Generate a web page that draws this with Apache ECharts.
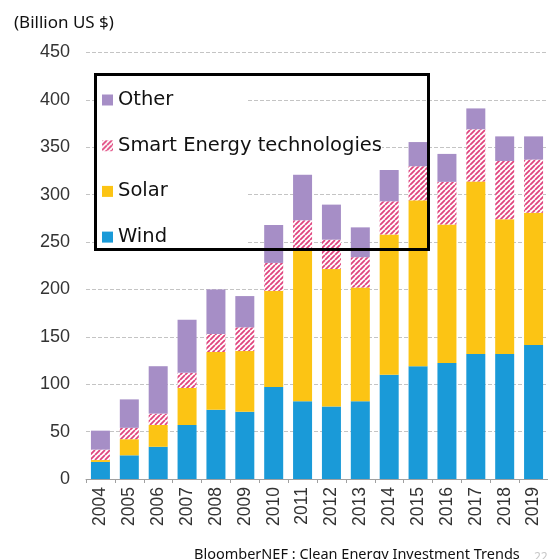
<!DOCTYPE html>
<html>
<head>
<meta charset="utf-8">
<script src="https://cdn.jsdelivr.net/npm/echarts@6/dist/echarts.min.js"></script>
<style>
  html, body { margin: 0; padding: 0; background: #fff; }
  #chart { width: 548px; height: 559px; }
</style>
</head>
<body>
<div id="chart"></div>
<script>
// Clean energy investment by sector, billion US $
const years = ['2004', '2005', '2006', '2007', '2008', '2009', '2010', '2011',
               '2012', '2013', '2014', '2015', '2016', '2017', '2018', '2019'];
const wind  = [18, 25, 34, 57, 73, 71, 97, 82, 76.5, 82, 110, 119, 122.5, 132, 132, 141.5];
const solar = [2, 17, 23, 39, 61, 64, 101.5, 161, 145, 120, 148, 175, 146, 182, 142, 139.5];
const smart = [11, 12, 12, 16, 19, 25, 29.5, 30, 31, 32, 35, 36, 45, 55, 61.5, 56];
const other = [20, 30, 50, 56, 47, 33, 40, 48, 37, 31.5, 33, 25.5, 29.5, 22, 26, 24.5];
const yTicks = [0, 50, 100, 150, 200, 250, 300, 350, 400, 450];

// Diagonal hatch fill for the smart energy series
function hatch() {
  const s = 5;
  const c = document.createElement('canvas');
  c.width = s; c.height = s;
  const g = c.getContext('2d');
  g.fillStyle = '#ffffff';
  g.fillRect(0, 0, s, s);
  g.strokeStyle = '#e0457e';
  g.lineWidth = 1.8;
  g.beginPath();
  for (let k = -1; k <= 1; k++) {
    g.moveTo(k * s, s);
    g.lineTo(k * s + s, 0);
  }
  g.stroke();
  return c;
}

const chart = echarts.init(document.getElementById('chart'), null, { renderer: 'canvas' });
const axisFont = 'Liberation Sans, Arial, sans-serif';
const textFont = 'Noto Sans, Open Sans, sans-serif';
const legendFont = 'DejaVu Sans, Noto Sans, sans-serif';

const barW = 19;
const option = {
  animation: false,
  backgroundColor: '#ffffff',
  grid: { left: 86, right: -2, top: 52.5, bottom: 80, containLabel: false },
  title: [
    { text: '(Billion US $)', left: 9, top: 10,
      textStyle: { fontFamily: textFont, fontSize: 17, fontWeight: 'normal', color: '#111' } },
    { text: 'BloomberNEF : Clean Energy Investment Trends', left: 189, top: 542,
      textStyle: { fontFamily: textFont, fontSize: 14.5, fontWeight: 'normal', color: '#111' } },
    { text: '22', left: 529, top: 547,
      textStyle: { fontFamily: textFont, fontSize: 12, fontWeight: 'normal', color: '#c8c8c8' } }
  ],
  legend: {
    orient: 'vertical',
    left: 102, top: 89,
    padding: 0,
    itemWidth: 11, itemHeight: 11,
    itemGap: 23.7,
    icon: 'rect',
    data: ['Other', 'Smart Energy technologies', 'Solar', 'Wind'],
    textStyle: { fontFamily: legendFont, fontSize: 19.5, lineHeight: 22, color: '#111',
                 backgroundColor: '#ffffff' },
    z: 6
  },
  xAxis: {
    type: 'category',
    data: years,
    axisLine: { lineStyle: { color: '#a0a0a0', width: 1 } },
    axisTick: { show: true, length: 4, lineStyle: { color: '#a0a0a0' } },
    axisLabel: { rotate: 90, margin: 8, fontFamily: axisFont, fontSize: 17.5, color: '#333' }
  },
  yAxis: {
    type: 'value',
    min: yTicks[0], max: yTicks[yTicks.length - 1], interval: 50,
    axisLine: { show: false },
    axisTick: { show: false },
    axisLabel: { margin: 16, fontFamily: axisFont, fontSize: 18, color: '#333' },
    splitLine: { lineStyle: { color: '#c4c4c4', width: 1, type: [4, 2] } }
  },
  graphic: [
    { type: 'rect', shape: { x: 97, y: 76, width: 151, height: 171 },
      style: { fill: '#ffffff' }, z: 1, silent: true },
    { type: 'rect', shape: { x: 95.5, y: 74.5, width: 333, height: 175 },
      style: { fill: 'none', stroke: '#000', lineWidth: 3 }, z: 10, silent: true }
  ],
  series: [
    { name: 'Wind', type: 'bar', stack: 'all', data: wind, barWidth: barW,
      itemStyle: { color: '#1a9ad8' }, z: 2 },
    { name: 'Solar', type: 'bar', stack: 'all', data: solar, barWidth: barW,
      itemStyle: { color: '#fcc414' }, z: 2 },
    { name: 'Smart Energy technologies', type: 'bar', stack: 'all', data: smart, barWidth: barW,
      itemStyle: { color: { image: hatch(), repeat: 'repeat' } }, z: 2 },
    { name: 'Other', type: 'bar', stack: 'all', data: other, barWidth: barW,
      itemStyle: { color: '#a68ec6' }, z: 2 }
  ]
};
chart.setOption(option);
</script>
</body>
</html>
